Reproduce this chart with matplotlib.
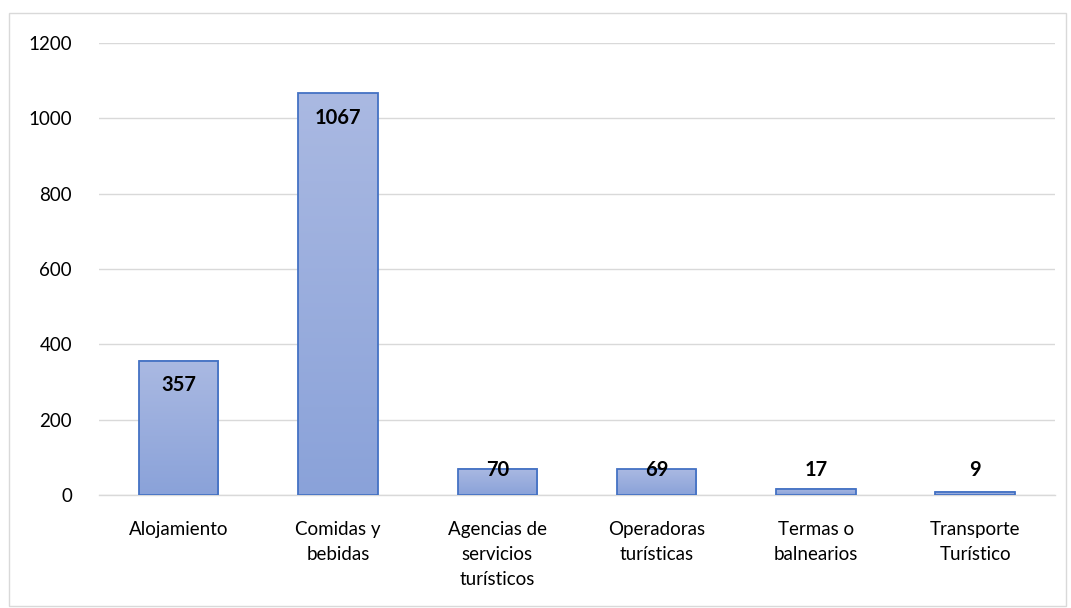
import matplotlib
matplotlib.use("Agg")
import matplotlib.pyplot as plt
import numpy as np
from matplotlib.patches import Rectangle
from matplotlib.colors import LinearSegmentedColormap

categories = ["Alojamiento", "Comidas y\nbebidas", "Agencias de\nservicios\nturísticos",
              "Operadoras\nturísticas", "Termas o\nbalnearios", "Transporte\nTurístico"]
values = [357, 1067, 70, 69, 17, 9]
yticks = [0, 200, 400, 600, 800, 1000, 1200]

plt.rcParams['font.family'] = ['Lato', 'DejaVu Sans']

fig = plt.figure(figsize=(10.71, 6.08), dpi=100)
ax = fig.add_axes([99/1071, 1-495/608, (1055-99)/1071, (495-43)/608])

x = np.arange(len(categories))
width = 0.5

grad = np.linspace(0, 1, 256).reshape(-1, 1)
cmap = LinearSegmentedColormap.from_list("g", ["#8aa2d9", "#aab9e2"])

bars = ax.bar(x, values, width=width, color="none", edgecolor="#4472c4", linewidth=1.3, zorder=3)
for b in bars:
    x0, y0 = b.get_x(), b.get_y()
    w, h = b.get_width(), b.get_height()
    ax.imshow(grad, extent=[x0, x0 + w, y0, y0 + h], origin="lower",
              cmap=cmap, aspect="auto", zorder=2)
ax.set_xlim(-0.5, len(categories) - 0.5)
ax.set_ylim(0, 1200)

for xi, v in zip(x, values):
    ax.text(xi, max(v - 66, 66), str(v), ha="center", va="center",
            fontsize=14.5, fontweight="bold", color="black", zorder=4)

ax.set_yticks(yticks)
ax.set_yticklabels([str(t) for t in yticks], fontsize=13.5)
ax.set_xticks(x)
ax.set_xticklabels(categories, fontsize=13.5, linespacing=1.55)
ax.tick_params(axis="both", length=0, colors="black")
ax.tick_params(axis="y", pad=19.5)
ax.tick_params(axis="x", pad=19)
ax.yaxis.grid(True, color="#d9d9d9", linewidth=1, zorder=0)
ax.set_axisbelow(True)
for s in ["top", "right", "left"]:
    ax.spines[s].set_visible(False)
ax.spines["bottom"].set_color("#d9d9d9")
ax.spines["bottom"].set_linewidth(1)

fig.patches.append(Rectangle((9/1071, 0.003), 1 - 14/1071, 1 - 13/608 - 0.003,
                             transform=fig.transFigure, fill=False,
                             edgecolor="#d9d9d9", linewidth=1))

fig.savefig("out.png", dpi=100)
